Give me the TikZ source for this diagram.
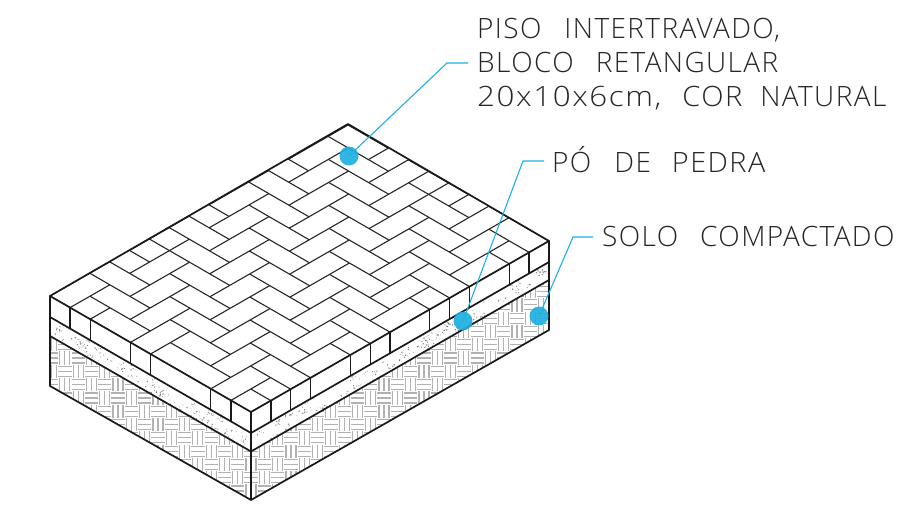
\documentclass[tikz,border=0pt]{standalone}
\usepackage{fontspec}
\usetikzlibrary{calc}
\setmainfont[LetterSpace=5]{Open Sans Light}
\definecolor{lead}{HTML}{1FAFE0}
\newcommand{\wgap}[1]{\hspace{#1pt}}
\tikzset{
  edge/.style={line width=1.7pt,black!90,line cap=round,line join=round},
  joint/.style={line width=1.1pt,black!85},
  hatchline/.style={line width=1.15pt,black!30},
  leader/.style={line width=1.1pt,lead},
  dot/.style={circle,fill=lead,fill opacity=0.92,inner sep=0,minimum size=19pt},
  lab/.style={anchor=base west,inner sep=0,font=\fontsize{28pt}{28pt}\selectfont,text=black!85},
}
\begin{document}
\begin{tikzpicture}[x=1pt,y=-1pt]
\useasboundingbox (0,0) rectangle (903,508);
% corners
\coordinate (L) at (50,296); \coordinate (F) at (251,412); \coordinate (R) at (549,241); \coordinate (B) at (348,124);
\coordinate (L1) at (50,317); \coordinate (F1) at (251,433); \coordinate (R1) at (549,262);
\coordinate (L2) at (50,336); \coordinate (F2) at (251,451.5); \coordinate (R2) at (549,280);
\coordinate (L3) at (50,386); \coordinate (F3) at (251,500); \coordinate (R3) at (549,330);
% weave hatch
\begin{scope}
\clip (L2)--(F2)--(R2)--(R3)--(F3)--(L3)--cycle;
\foreach \i in {-18,...,22}{
 \foreach \j in {-14,...,5}{
  \pgfmathtruncatemacro{\prt}{mod(\i+\j+100,2)}
  \pgfmathsetmacro{\cx}{271+\i*13.3}
  \pgfmathsetmacro{\cy}{444.5+\j*13.3}
  \ifnum\prt=0
   \foreach \k in {1.65,6.65,11.65}{\draw[hatchline] (\cx,\cy+\k)--(\cx+13.3,\cy+\k);}
  \else
   \foreach \k in {1.65,6.65,11.65}{\draw[hatchline] (\cx+\k,\cy)--(\cx+\k,\cy+13.3);}
  \fi
 }}
\end{scope}
% sand stipple
\pgfmathsetseed{4217}
\begin{scope}
\clip (L1)--(F1)--(R1)--(R2)--(F2)--(L2)--cycle;
\foreach \n in {1,...,60}{
  \pgfmathsetmacro{\t}{rnd}\pgfmathsetmacro{\s}{rnd}
  \pgfmathsetmacro{\cx}{50+201*\t}\pgfmathsetmacro{\cy}{317+116*\t+19*\s}
  \foreach \m in {1,...,4}{
   \fill[black!55] (\cx+rand*3.5,\cy+rand*3) circle (0.2+0.55*rnd);}
}
\foreach \n in {1,...,85}{
  \pgfmathsetmacro{\t}{rnd}\pgfmathsetmacro{\s}{rnd}
  \pgfmathsetmacro{\cx}{251+298*\t}\pgfmathsetmacro{\cy}{433-171*\t+19*\s}
  \foreach \m in {1,...,4}{
   \fill[black!55] (\cx+rand*3.5,\cy+rand*3) circle (0.2+0.55*rnd);}
}
\end{scope}
% herringbone
\begin{scope}
\clip (L)--(F)--(R)--(B)--cycle;
\begin{scope}[shift={(50,296)},x={(20.1pt,-11.6pt)},y={(19.87pt,11.4pt)}]
\foreach \p in {-4,...,12}{
 \foreach \q in {-4,...,18}{
  \pgfmathtruncatemacro{\md}{mod(\p+\q+100,4)}
  \ifnum\md=2
    \draw[joint] (\p,\q)--(\p+3,\q);
  \fi
  \ifnum\md=0
    \ifnum\p=6 \ifnum\q=-2 \else \draw[joint] (\p,\q)--(\p,\q+3); \fi
    \else \draw[joint] (\p,\q)--(\p,\q+3); \fi
  \fi
 }}
\draw[joint] (0,5)--(1,5);
\draw[joint] (5,14)--(5,15);
\end{scope}
\end{scope}
% block joints on the faces
\foreach \p in {1,2,4,5,8,9}{
  \draw[edge,line width=1.3pt] ($(L)!\p/10!(F)$)--($(L1)!\p/10!(F1)$);}
\foreach \q in {1,2,3,5,6,7,9,10,11,13,14}{
  \draw[edge,line width=1.3pt] ($(F)!\q/15!(R)$)--($(F1)!\q/15!(R1)$);}
% outlines
\draw[edge] (L)--(B)--(R)--(F)--cycle;
\draw[edge] (L)--(L3)--(F3)--(R3)--(R);
\draw[edge] (F)--(F3);
\draw[edge] (L1)--(F1)--(R1);
\draw[edge] (L2)--(F2)--(R2);
% labels
\node[lab] (piso1) at (477,39) {PISO\wgap{23}INTERTRAVADO,};
\node[lab] (piso2) at (477,73) {BLOCO\wgap{22}RETANGULAR};
\node[lab] (piso3) at (477,107) {\scalebox{1.12}[1]{20x10x6cm,}\wgap{21}\scalebox{1.04}[1]{COR}\wgap{18}NATURAL};
\node[lab] (po) at (552,173) {PÓ\wgap{23}DE\wgap{21}\scalebox{1.03}[1]{PEDRA}};
\node[lab] (solo) at (602,247) {SOLO\wgap{22}COMPACTADO};
% leaders
\node[dot] (d1) at (349,156) {};
\node[dot] (d2) at (463,321) {};
\node[dot] (d3) at (539,316) {};
\coordinate (e1) at (447,63); \coordinate (t1) at (468,63);
\coordinate (e2) at (523,161); \coordinate (t2) at (544,161);
\coordinate (e3) at (573,237); \coordinate (t3) at (593,237);
\draw[leader] (d1.center)--(e1)--(t1);
\draw[leader] (d2.center)--(e2)--(t2);
\draw[leader] (d3.center)--(e3)--(t3);
\end{tikzpicture}
\end{document}
